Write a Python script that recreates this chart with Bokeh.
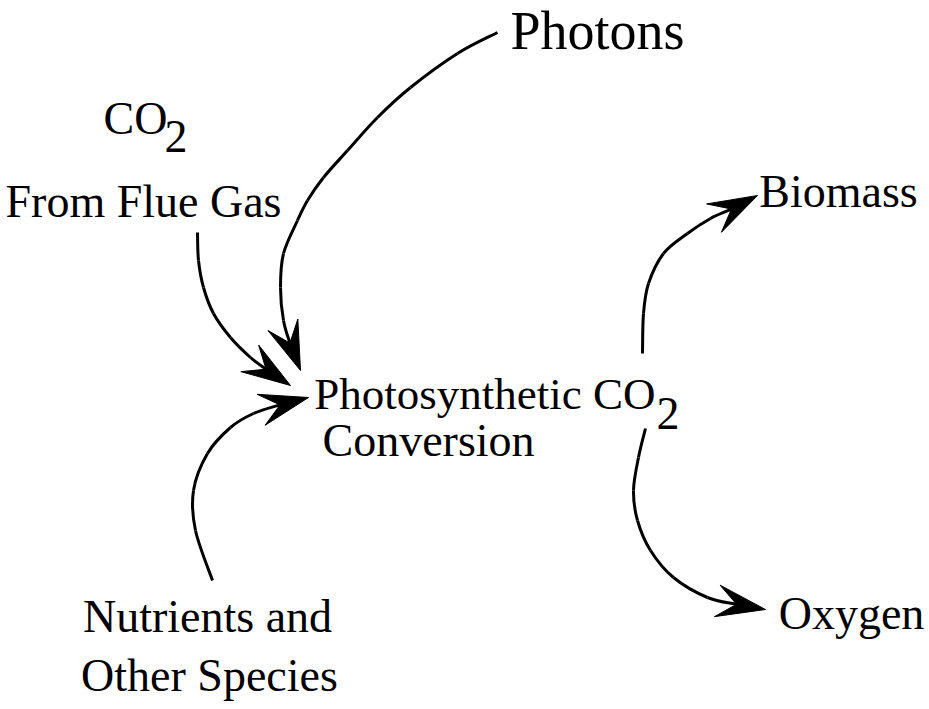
import math
from bokeh.plotting import figure
from bokeh.models import Range1d
from bokeh.embed import file_html
from bokeh.resources import INLINE
from bokeh.core.properties import value

# ---- text labels (screen-like coordinates, y grows downward; y = baseline) ----
label_text = ["Photons", "From Flue Gas", "Biomass", "Oxygen",
              "Nutrients and", "Other Species"]
label_x = [597, 143, 838, 851, 207, 209]
label_y = [50, 218, 208, 630, 633, 692]
label_px = [54, 46, 46, 46, 46, 46]

co_text = ["CO"]
co_x = [103]
co_y = [135]

center_text = ["Photosynthetic CO"]
center_x = [655]
center_y = [410]

conv_text = ["Conversion"]
conv_x = [322]
conv_y = [457]

sub_text = ["2", "2"]
sub_x = [164, 656]
sub_y = [153, 430]

# ---- arrow paths (ending at the arrowhead notch) ----
photons_x = [497, 457, 410, 377, 347, 323, 307, 297, 283, 280, 283, 290]
photons_y = [32, 53, 87, 117, 150, 177, 200, 220, 253, 287, 320, 344]
photons_tip = (300, 370)

flue_x = [197, 198, 203, 213, 230, 250, 266]
flue_y = [232, 260, 287, 313, 337, 357, 369]
flue_tip = (290, 385)

nutr_x = [212, 195, 193, 207, 230, 253, 281]
nutr_y = [580, 530, 490, 453, 427, 413, 404]
nutr_tip = (308, 397)

bio_x = [642, 643, 648, 663, 687, 710, 732]
bio_y = [353, 313, 283, 253, 233, 218, 208]
bio_tip = (757, 195)

oxy_x = [645, 638, 633, 637, 650, 673, 707, 737]
oxy_y = [428, 457, 490, 520, 550, 577, 597, 604]
oxy_tip = (765, 609)

arrows = [(photons_x, photons_y, photons_tip),
          (flue_x, flue_y, flue_tip),
          (nutr_x, nutr_y, nutr_tip),
          (bio_x, bio_y, bio_tip),
          (oxy_x, oxy_y, oxy_tip)]

W, H = 929, 709
p = figure(width=W, height=H, output_backend="svg", toolbar_location=None,
           x_range=Range1d(0, W), y_range=Range1d(H, 0),
           min_border=0)
p.axis.visible = False
p.grid.visible = False
p.outline_line_color = None
p.background_fill_color = "white"
p.border_fill_color = "white"

FONT = value("Liberation Serif")
SHIFT = 0.36  # baseline correction (fraction of font size)

# curves as Catmull-Rom -> cubic bezier segments
bx0, by0, bx1, by1, bcx0, bcy0, bcx1, bcy1 = [], [], [], [], [], [], [], []
head_xs, head_ys = [], []
for xs, ys, tip in arrows:
    pts = list(zip(xs, ys)) + [tip]
    n = len(xs)
    for i in range(n - 1):
        p0 = pts[i - 1] if i > 0 else pts[i]
        p1 = pts[i]
        p2 = pts[i + 1]
        p3 = pts[i + 2]
        bx0.append(p1[0]); by0.append(p1[1])
        bx1.append(p2[0]); by1.append(p2[1])
        bcx0.append(p1[0] + (p2[0] - p0[0]) / 6.0)
        bcy0.append(p1[1] + (p2[1] - p0[1]) / 6.0)
        bcx1.append(p2[0] - (p3[0] - p1[0]) / 6.0)
        bcy1.append(p2[1] - (p3[1] - p1[1]) / 6.0)
    tx, ty = tip
    dx, dy = tx - xs[-1], ty - ys[-1]
    d = math.hypot(dx, dy)
    ux, uy = dx / d, dy / d
    nx, ny = -uy, ux
    L, Wd = 49.0, 16.0
    bxm, bym = tx - L * ux, ty - L * uy
    ntx, nty = tx - 0.6 * L * ux, ty - 0.6 * L * uy
    head_xs.append([tx, bxm + Wd * nx, ntx, bxm - Wd * nx])
    head_ys.append([ty, bym + Wd * ny, nty, bym - Wd * ny])

p.bezier(x0=bx0, y0=by0, x1=bx1, y1=by1, cx0=bcx0, cy0=bcy0, cx1=bcx1, cy1=bcy1,
         line_color="black", line_width=3)
p.patches(xs=head_xs, ys=head_ys, fill_color="black", line_color="black", line_width=1)


def put(xs, ys, texts, px, align):
    for x, y, t, s in zip(xs, ys, texts, px):
        p.text(x=[x], y=[y - SHIFT * s], text=[t], text_font=FONT,
               text_font_size=f"{s}px", text_align=align,
               text_baseline="alphabetic", text_color="black")


put(label_x, label_y, label_text, label_px, "center")
put(co_x, co_y, co_text, [46], "left")
put(center_x, center_y, center_text, [45], "right")
put(conv_x, conv_y, conv_text, [46], "left")
put(sub_x, sub_y, sub_text, [46, 46], "left")

open("out.html", "w").write(file_html(p, INLINE))
